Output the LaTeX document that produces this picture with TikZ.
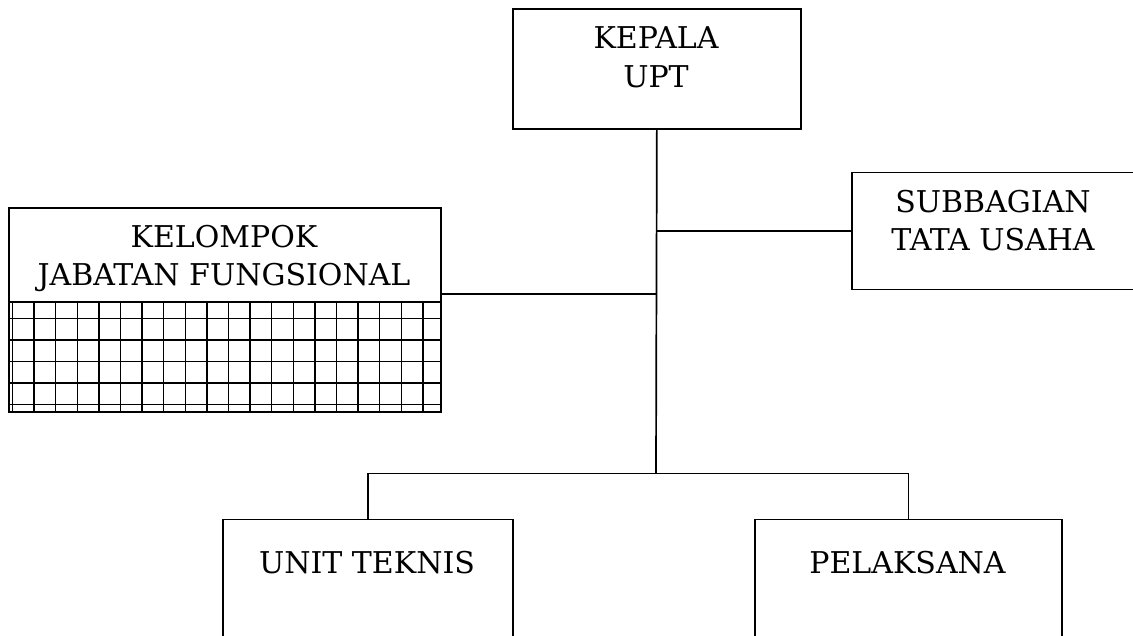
\documentclass[tikz,border=0pt]{standalone}
\usepackage{fontspec}
\setmainfont{DejaVu Serif}
\begin{document}
\begin{tikzpicture}[x=1pt,y=-1pt,
  box/.style={draw,line width=1.7pt,rectangle,inner sep=0pt,anchor=north west},
  conn/.style={line width=1.7pt},
  gridline/.style={line width=1.4pt},
  lbl/.style={anchor=base,inner sep=0pt,font=\fontsize{30}{36}\selectfont}]
\useasboundingbox (0,0) rectangle (1133,635);
\clip (0,0) rectangle (1133,635);
% boxes
\node[box,minimum width=288pt,minimum height=120pt] (kepala) at (512,8) {};
\node[box,minimum width=290pt,minimum height=117pt] (subbag) at (851,171.5) {};
\node[box,minimum width=432pt,minimum height=204pt] (kjf) at (8,207) {};
\node[box,minimum width=290pt,minimum height=150pt] (unit) at (222,518.5) {};
\node[box,minimum width=307pt,minimum height=150pt] (pel) at (754,518.5) {};
% labels
\node[lbl] (kepala1) at (656,48) {KEPALA};
\node[lbl] (kepala2) at (656,87) {UPT};
\node[lbl] (subbag1) at (993,212) {SUBBAGIAN};
\node[lbl] (subbag2) at (993,250) {TATA USAHA};
\node[lbl] (kjf1) at (224,247) {KELOMPOK};
\node[lbl] (kjf2) at (224,285) {JABATAN FUNGSIONAL};
\node[lbl] (unit1) at (367,573) {UNIT TEKNIS};
\node[lbl] (pel1) at (907.5,573) {PELAKSANA};
% grid part of the functional group box
\draw[conn] (8,302) -- (440,302);
\foreach \k in {0,...,19} \draw[gridline] ({12.5+21.6*\k},302) -- ({12.5+21.6*\k},411);
\foreach \k in {0,...,4} \draw[gridline] (8,{318.5+21.5*\k}) -- (440,{318.5+21.5*\k});
% connectors
\coordinate (bus) at (656,473.5);
\coordinate (kj) at (656,294);
\draw[conn] (kepala.south) -- (bus);
\draw[conn] (subbag.west) -- (subbag.west -| kepala.south);
\draw[conn] (kj -| kjf.east) -- (kj);
\draw[conn] (unit.north) -- (unit.north |- bus) -- (pel.north |- bus) -- (pel.north);
\end{tikzpicture}
\end{document}
